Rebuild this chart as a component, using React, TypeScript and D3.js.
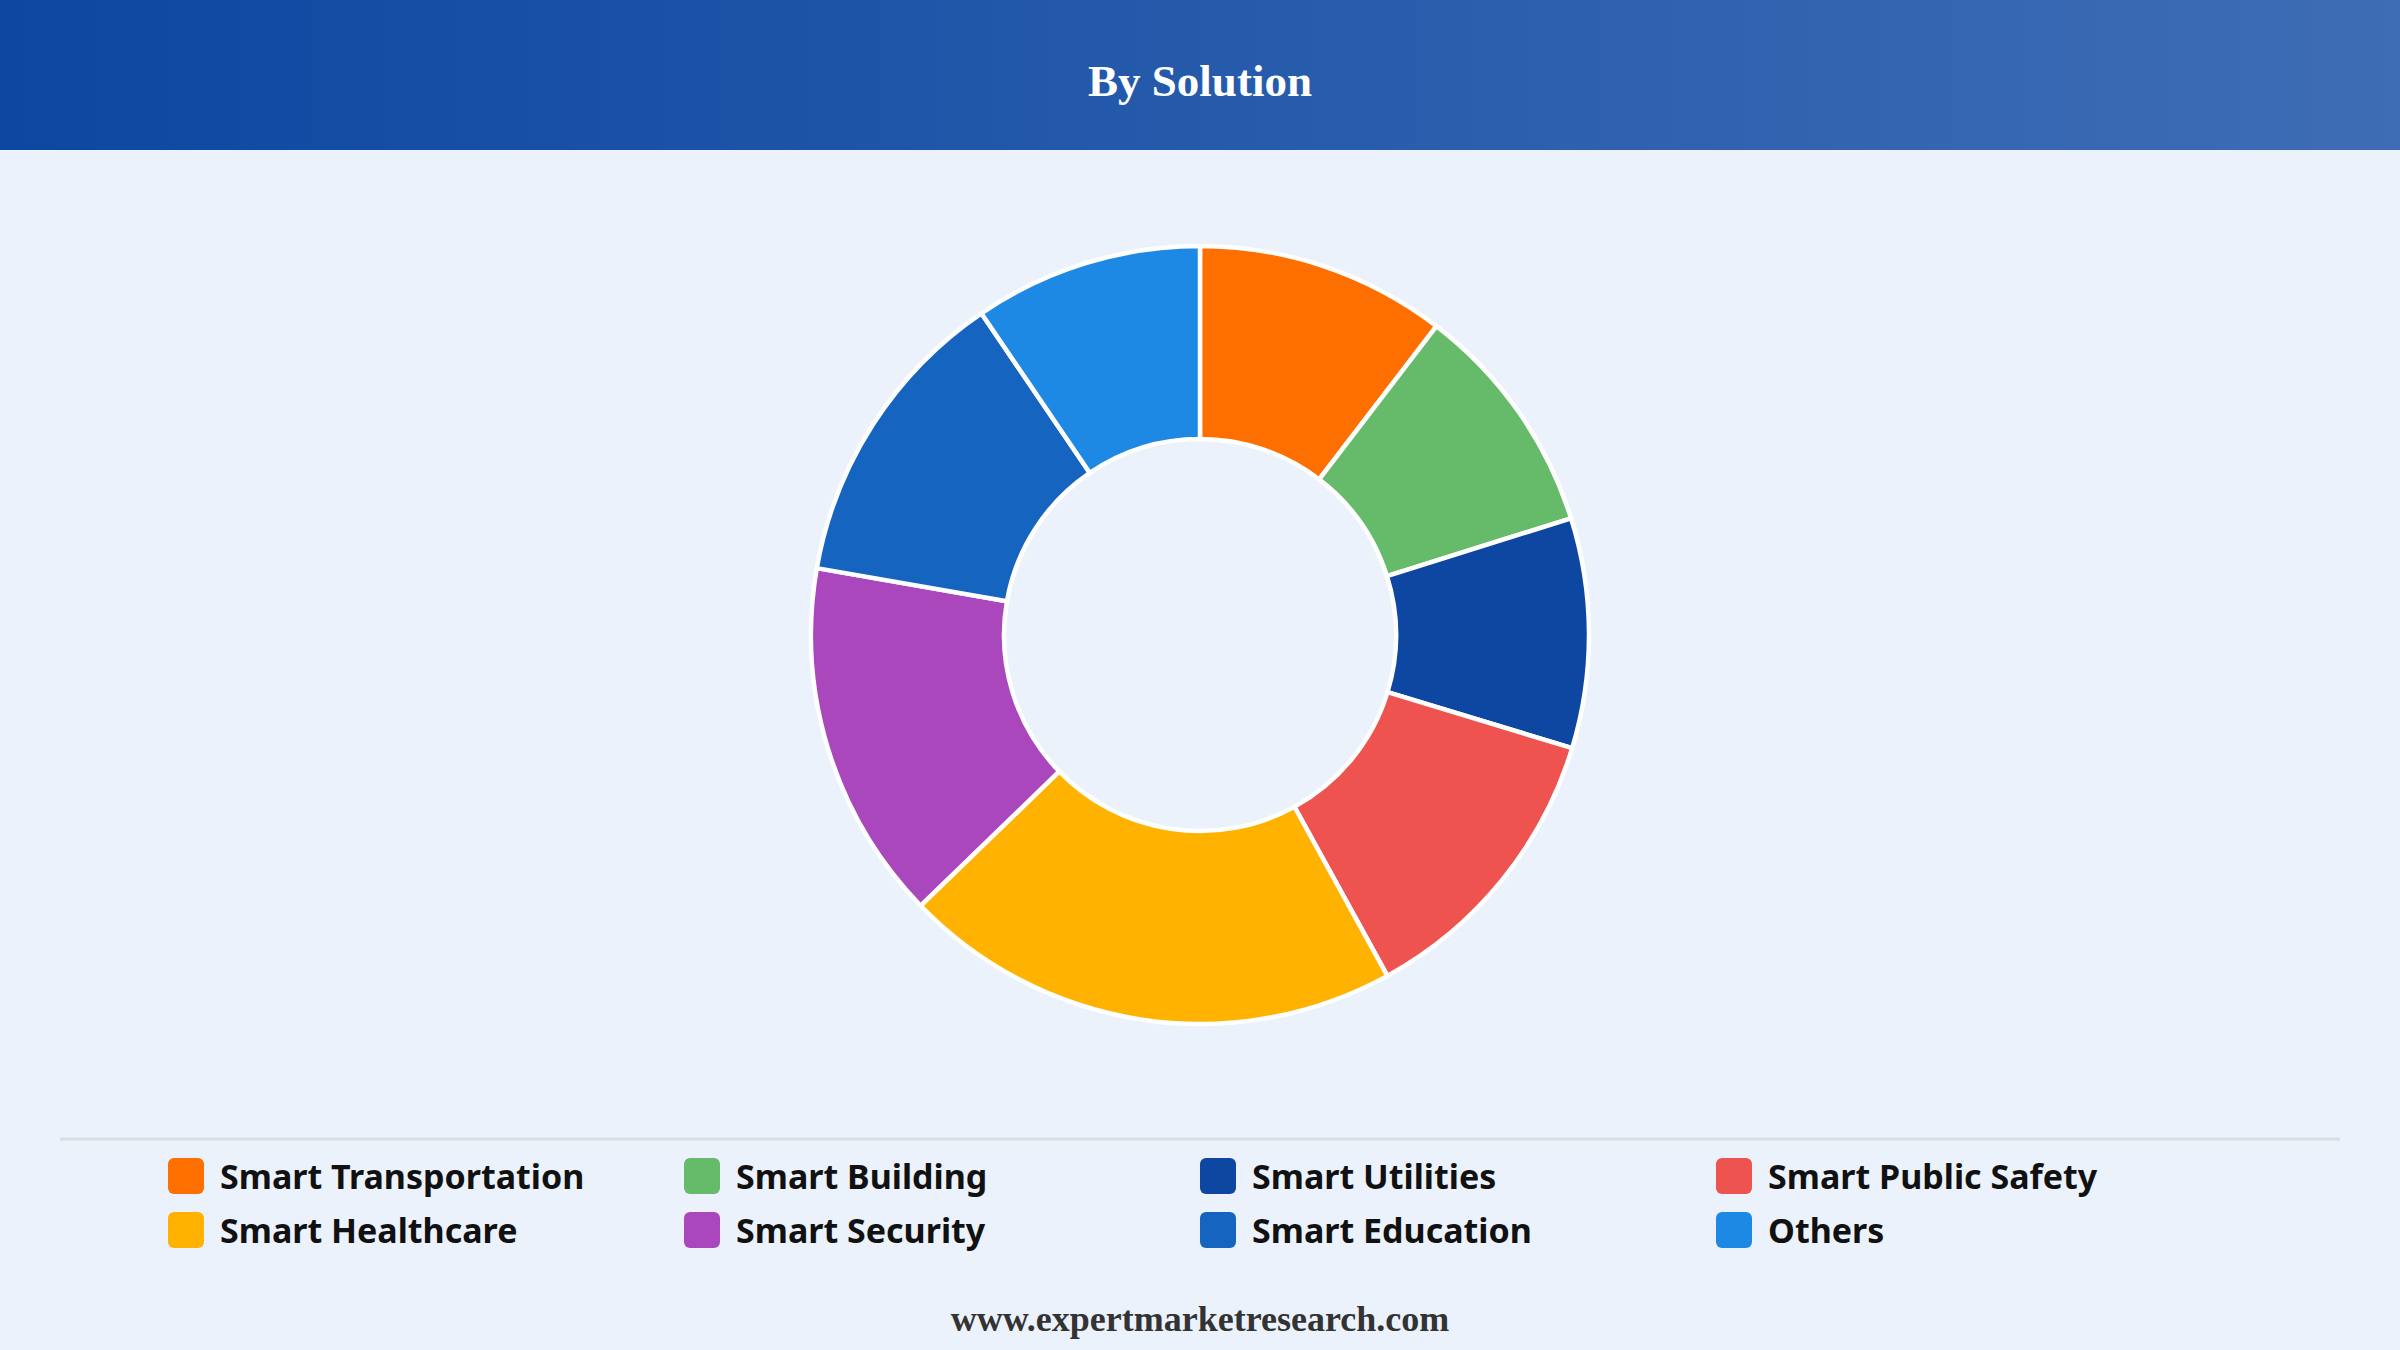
import { useEffect, useRef } from 'react';
import * as d3 from 'd3';

// Segment shares (%) read clockwise from 12 o'clock
const categories = [
  'Smart Transportation',
  'Smart Building',
  'Smart Utilities',
  'Smart Public Safety',
  'Smart Healthcare',
  'Smart Security',
  'Smart Education',
  'Others',
];
const shares = [10.4, 9.75, 9.55, 12.3, 20.75, 15.0, 12.75, 9.5];
const colors = ['#FF6F00', '#66BB6A', '#0D47A1', '#EF5350', '#FFB300', '#AB47BC', '#1565C0', '#1E88E5'];

const title = 'By Solution';
const footer = 'www.expertmarketresearch.com';

const W = 2400;
const H = 1350;

export default function App() {
  const svgRef = useRef<SVGSVGElement>(null);

  useEffect(() => {
    document.body.style.margin = '0';
    if (!svgRef.current) return;
    const svg = d3.select(svgRef.current);
    svg.selectAll('*').remove();

    // Background
    svg.append('rect').attr('width', W).attr('height', H).attr('fill', '#EBF2FC');

    // Header with gradient
    const defs = svg.append('defs');
    const grad = defs
      .append('linearGradient')
      .attr('id', 'hdr')
      .attr('x1', '0%')
      .attr('x2', '100%')
      .attr('y1', '0%')
      .attr('y2', '0%');
    grad.append('stop').attr('offset', '0%').attr('stop-color', '#0D47A1');
    grad.append('stop').attr('offset', '100%').attr('stop-color', '#3E6DB5');

    svg.append('rect').attr('width', W).attr('height', 150).attr('fill', 'url(#hdr)');

    svg
      .append('text')
      .attr('x', W / 2)
      .attr('y', 96)
      .attr('text-anchor', 'middle')
      .attr('fill', '#fff')
      .style('font-family', '"Liberation Serif", "Times New Roman", serif')
      .style('font-weight', '700')
      .style('font-size', '45px')
      .text(title);

    // Donut
    const cx = 1200;
    const cy = 635;
    const outerR = 389;
    const innerR = 196;

    const pie = d3
      .pie<number>()
      .sort(null)
      .value((d) => d);
    const arc = d3.arc<d3.PieArcDatum<number>>().innerRadius(innerR).outerRadius(outerR);

    const g = svg.append('g').attr('transform', `translate(${cx},${cy})`);
    g.selectAll('path')
      .data(pie(shares))
      .enter()
      .append('path')
      .attr('d', arc)
      .attr('fill', (_, i) => colors[i])
      .attr('stroke', '#fff')
      .attr('stroke-width', 4.5)
      .attr('stroke-linejoin', 'round');

    // Separator line
    svg
      .append('line')
      .attr('x1', 60)
      .attr('x2', 2340)
      .attr('y1', 1139)
      .attr('y2', 1139)
      .attr('stroke', '#DADDE2')
      .attr('stroke-width', 3);

    // Legend: 4 columns x 2 rows
    const colX = d3.scalePoint<number>().domain([0, 1, 2, 3]).range([168, 1716]);
    const rowY = d3.scalePoint<number>().domain([0, 1]).range([1176, 1230]);

    categories.forEach((cat, i) => {
      const col = i % 4;
      const row = Math.floor(i / 4);
      const lg = svg.append('g').attr('transform', `translate(${colX(col)},${rowY(row)})`);
      lg.append('rect')
        .attr('x', 0)
        .attr('y', -18)
        .attr('width', 36)
        .attr('height', 36)
        .attr('rx', 6)
        .attr('fill', colors[i]);
      lg.append('text')
        .attr('x', 52)
        .attr('y', 0)
        .attr('dominant-baseline', 'central')
        .attr('fill', '#111')
        .style('font-family', '"Noto Sans", "Open Sans", sans-serif')
        .style('font-weight', '700')
        .style('font-size', '34px')
        .text(cat);
    });

    // Footer
    svg
      .append('text')
      .attr('x', W / 2)
      .attr('y', 1331)
      .attr('text-anchor', 'middle')
      .attr('fill', '#333')
      .style('font-family', '"Liberation Serif", "Times New Roman", serif')
      .style('font-weight', '700')
      .style('font-size', '36px')
      .text(footer);
  }, []);

  return <svg ref={svgRef} width={W} height={H} style={{ display: 'block' }}></svg>;
}
